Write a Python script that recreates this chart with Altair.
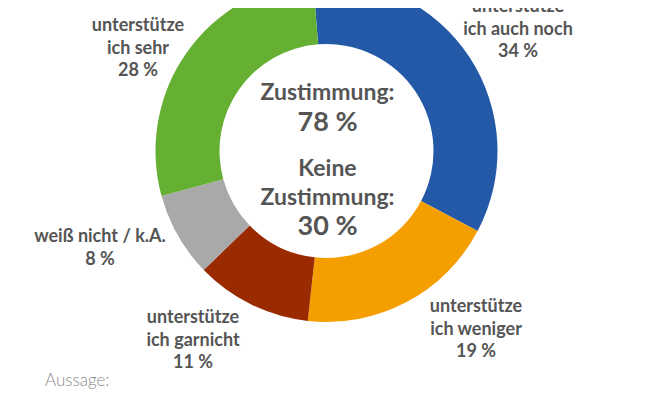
import math
import altair as alt
import pandas as pd

# ---- data ----
categories = ["unterstütze\nich auch noch", "unterstütze\nich weniger",
              "unterstütze\nich garnicht", "weiß nicht / k.A.", "unterstütze\nich sehr"]
values = [34, 19, 11, 8, 28]
colors = ["#2459A8", "#F59E00", "#9A2B00", "#A9A9A9", "#65B033"]
center_lines = ["Zustimmung:", "78 %", "Keine", "Zustimmung:", "30 %"]
footer = "Aussage:"

df = pd.DataFrame({
    "cat": categories,
    "value": values,
    "order": list(range(len(values))),
    "label": [f"{c}\n{v} %" for c, v in zip(categories, values)],
})

# ---- layout ----
W, H = 637, 385
CX, CY = 318.5, 143
R_OUT, R_IN = 171, 107
START = math.radians(-4.5)
FONT = "Lato"
TXT = "#555555"
LH = 22.5

# top-line positions of each label block
label_pos = [(510, -1), (468, 299), (185, 310), (92, 229), (130, 18)]

base = alt.Chart(df)

donut = base.mark_arc(outerRadius=R_OUT, innerRadius=R_IN).encode(
    theta=alt.Theta("value:Q", stack=True,
                    scale=alt.Scale(range=[START, START + 2 * math.pi])),
    color=alt.Color("cat:N", scale=alt.Scale(domain=categories, range=colors), legend=None),
    order=alt.Order("order:Q"),
    x=alt.value(CX), y=alt.value(CY),
)

layers = [donut]
for i, (lx, ly) in enumerate(label_pos):
    layers.append(
        alt.Chart(df.iloc[[i]]).mark_text(
            font=FONT, fontWeight="bold", fontSize=18, lineHeight=LH,
            lineBreak="\n", align="center", baseline="middle", color=TXT,
        ).encode(text="label:N", x=alt.value(lx), y=alt.value(ly))
    )

center_y = [92, 123, 168, 197, 227]
center_size = [23, 27, 23, 23, 27]
for t, yy, s in zip(center_lines, center_y, center_size):
    layers.append(
        alt.Chart(pd.DataFrame({"t": [t]})).mark_text(
            font=FONT, fontWeight="bold", fontSize=s, align="center",
            baseline="alphabetic", color=TXT,
        ).encode(text="t:N", x=alt.value(CX + 1), y=alt.value(yy))
    )

layers.append(
    alt.Chart(pd.DataFrame({"t": [footer]})).mark_text(
        font=FONT, fontWeight=300, fontSize=17, align="left",
        baseline="alphabetic", color="#8a8a8a",
    ).encode(text="t:N", x=alt.value(37), y=alt.value(378))
)

chart = alt.layer(*layers).properties(
    width=W, height=H, padding=0,
    autosize=alt.AutoSizeParams(type="none"),
).configure_view(stroke=None)

chart.save("out.html", embed_options={"renderer": "svg", "actions": False})
